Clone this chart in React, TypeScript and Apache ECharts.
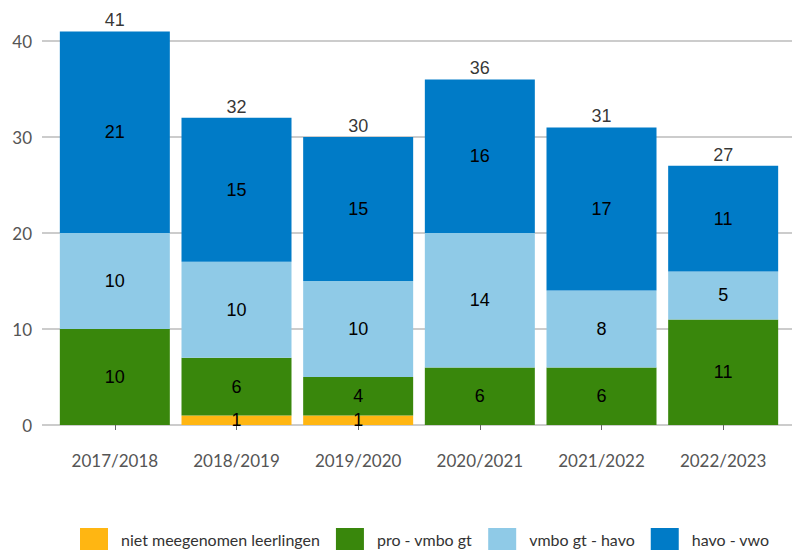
import React, { useEffect, useRef } from "react";
import * as echarts from "echarts";

const categories = ["2017/2018", "2018/2019", "2019/2020", "2020/2021", "2021/2022", "2022/2023"];
const nietMeegenomen = [0, 1, 1, 0, 0, 0];
const proVmbo = [10, 6, 4, 6, 6, 11];
const vmboHavo = [10, 10, 10, 14, 8, 5];
const havoVwo = [21, 15, 15, 16, 17, 11];
const totals = [41, 32, 30, 36, 31, 27];
const yTicks = [0, 10, 20, 30, 40];

const seriesNames = ["niet meegenomen leerlingen", "pro - vmbo gt", "vmbo gt - havo", "havo - vwo"];
const colors = ["#FFB612", "#39870C", "#8FCAE7", "#007BC7"];

export default function App() {
  const ref = useRef<HTMLDivElement>(null);
  useEffect(() => {
    if (!ref.current) return;
    const chart = echarts.init(ref.current, null, { renderer: "svg" });
    const data = [nietMeegenomen, proVmbo, vmboHavo, havoVwo];
    const labelStyle = {
      show: true,
      position: "inside",
      color: "#000",
      fontSize: 18,
      fontFamily: "Liberation Sans, Arial, sans-serif",
      formatter: (p: any) => (p.value ? String(p.value) : ""),
    };
    chart.setOption({
      animation: false,
      grid: [
        { left: 42, right: 0, top: 41, bottom: 126 },
        { left: 54, right: 8, top: 2.6, bottom: 126 },
      ],
      xAxis: [
        { type: "value", gridIndex: 0, show: false, min: 0, max: 1 },
        {
          type: "category",
          gridIndex: 1,
          data: categories,
          offset: 19,
          axisLine: { show: false },
          axisTick: { show: true, alignWithLabel: true, length: 5, lineStyle: { color: "#666" } },
          axisLabel: { color: "#555", fontSize: 17, fontFamily: "Lato, sans-serif", margin: 8 },
        },
      ],
      yAxis: [
        {
          type: "value",
          gridIndex: 0,
          min: yTicks[0],
          max: yTicks[yTicks.length - 1],
          interval: 10,
          axisLine: { show: false },
          axisTick: { show: false },
          axisLabel: { color: "#555", fontSize: 17, fontFamily: "Lato, sans-serif", margin: 10 },
          splitLine: { lineStyle: { color: "#cccccc", width: 2 } },
        },
        { type: "value", gridIndex: 1, min: 0, max: 44, show: false, splitLine: { show: false } },
      ],
      legend: {
        data: seriesNames,
        left: 80,
        top: 528,
        width: 712,
        padding: 0,
        itemWidth: 28,
        itemHeight: 22,
        itemGap: 16,
        icon: "rect",
        textStyle: {
          color: "#333",
          fontSize: 16,
          lineHeight: 16,
          fontFamily: "Lato, sans-serif",
          padding: [4, 0, 0, 8],
        },
      },
      series: [
        ...seriesNames.map((name, i) => ({
          name,
          type: "bar",
          stack: "total",
          xAxisIndex: 1,
          yAxisIndex: 1,
          barWidth: 110,
          data: data[i],
          itemStyle: { color: colors[i] },
          label: labelStyle,
        })),
        {
          name: "totaal",
          type: "scatter",
          xAxisIndex: 1,
          yAxisIndex: 1,
          symbolSize: 0,
          data: totals,
          label: {
            show: true,
            position: "top",
            distance: 2,
            color: "#000",
            fontSize: 18,
            fontFamily: "Liberation Sans, Arial, sans-serif",
          },
          z: 5,
        },
      ],
    });
    return () => chart.dispose();
  }, []);
  return <div ref={ref} style={{ width: 792, height: 551, position: "absolute", left: 0, top: 0 }} />;
}
